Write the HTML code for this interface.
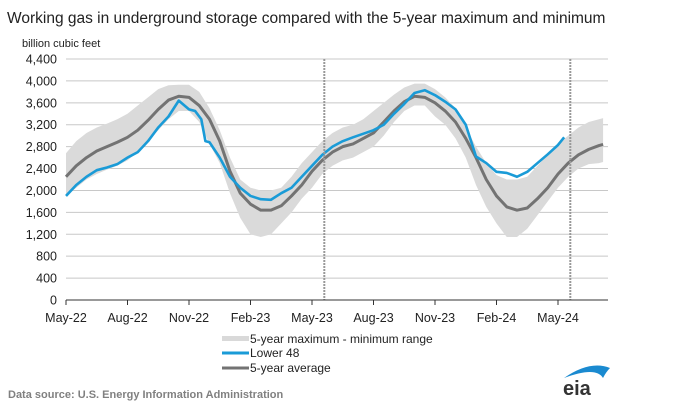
<!DOCTYPE html>
<html><head><meta charset="utf-8"><style>
body{margin:0;background:#fff;width:679px;height:406px;overflow:hidden;font-family:"Liberation Sans",Arial,sans-serif}
svg{display:block}
</style></head><body>
<svg width="679" height="406">
<text x="7" y="23" font-size="15.5" fill="#222">Working gas in underground  storage compared with the 5-year maximum and minimum</text>
<text x="22" y="47" font-size="11" fill="#222">billion cubic feet</text>
<g id="grid"></g><g id="band"></g><g id="lines"></g><g id="axes"></g>
<g>
<rect x="222" y="336" width="27" height="5" fill="#d9d9d9"/>
<text x="250" y="343" font-size="12" fill="#222">5-year maximum - minimum range</text>
<line x1="222" y1="353" x2="249" y2="353" stroke="#1a9bd7" stroke-width="3"/>
<text x="250" y="357" font-size="12" fill="#222">Lower 48</text>
<line x1="222" y1="368" x2="249" y2="368" stroke="#737373" stroke-width="3"/>
<text x="250" y="372" font-size="12" fill="#222">5-year average</text>
</g>
<text x="8" y="398" font-size="11" font-weight="bold" fill="#808080">Data source:  U.S. Energy Information Administration</text>
<g>
<path d="M564,378 Q590,360 610,368 Q606,372 603,378 Q596,366 564,378Z" fill="#1a8ad0"/>
<text x="563" y="395" font-size="20" font-weight="bold" fill="#333">eia</text>
</g>
</svg>
<script>
const months=[0,0.5,1,1.5,2,2.5,3,3.5,4,4.5,5,5.5,6,6.5,7,7.5,8,8.5,9,9.5,10,10.5,11,11.5,12,12.5,13,13.5,14,14.5,15,15.5,16,16.5,17,17.5,18,18.5,19,19.5,20,20.5,21,21.5,22,22.5,23,23.5,24,24.5,25,25.5,26,26.2];
const maxVals=[2680,2900,3050,3150,3220,3300,3400,3550,3700,3850,3920,3930,3930,3800,3500,3100,2600,2200,2050,2000,2000,2050,2250,2500,2700,2900,3050,3150,3200,3300,3450,3600,3750,3880,3950,3950,3850,3700,3500,3150,2800,2500,2280,2200,2200,2250,2450,2650,2850,3000,3150,3250,3300,3320];
const minVals=[1900,2050,2200,2300,2380,2450,2550,2700,2900,3100,3300,3450,3450,3250,2850,2500,1950,1500,1200,1150,1200,1400,1600,1850,2050,2300,2450,2550,2600,2700,2800,3000,3250,3450,3550,3550,3350,3200,2950,2600,2100,1700,1400,1150,1150,1300,1550,1800,2050,2250,2400,2480,2500,2520];
const avgVals=[2250,2450,2600,2720,2800,2880,2970,3100,3280,3480,3650,3720,3700,3550,3300,2900,2350,1950,1750,1640,1640,1720,1900,2100,2350,2550,2700,2800,2850,2950,3050,3250,3450,3620,3720,3700,3600,3450,3250,2950,2600,2200,1900,1700,1640,1680,1850,2050,2300,2500,2650,2750,2820,2840];
const l48Months=[0,0.5,1,1.5,2,2.5,3,3.5,4,4.5,5,5.5,6,6.3,6.6,6.8,7,7.5,8,8.5,9,9.5,10,10.5,11,11.5,12,12.5,13,13.5,14,15,15.5,16,16.5,17,17.5,18,18.5,19,19.5,20,20.5,21,21.5,22,22.5,23,23.5,24,24.3];
const l48Vals=[1900,2100,2250,2370,2420,2480,2600,2700,2900,3150,3350,3640,3480,3450,3300,2900,2880,2600,2250,2050,1900,1840,1830,1950,2050,2250,2450,2650,2800,2900,2970,3100,3200,3400,3580,3780,3830,3740,3620,3480,3200,2620,2500,2340,2320,2250,2340,2500,2660,2830,2970];
const yTicks=[0,400,800,1200,1600,2000,2400,2800,3200,3600,4000,4400];
const xTickLabels=["May-22","Aug-22","Nov-22","Feb-23","May-23","Aug-23","Nov-23","Feb-24","May-24"];
const xTickMonths=[0,3,6,9,12,15,18,21,24];
const dashedMonths=[12.6,24.6];
const NS="http://www.w3.org/2000/svg";
const X=m=>66+m*20.5, Y=v=>300-v/4400*241;
function mk(tag,attrs,parent){const e=document.createElementNS(NS,tag);for(const k in attrs)e.setAttribute(k,attrs[k]);document.querySelector(parent).appendChild(e);return e;}
yTicks.forEach(v=>{
 if(v>0){const g=mk('line',{x1:66,x2:608,y1:Y(v),y2:Y(v),stroke:'#c8c8c8','stroke-width':1},'#grid');
 
 }
 const t=mk('text',{x:57,y:Y(v)+4.5,'font-size':12.5,'text-anchor':'end',fill:'#222'},'#axes');t.textContent=v.toLocaleString('en-US');
 
 
});
let bp='M'+months.map((m,i)=>X(m)+','+Y(maxVals[i])).join('L');
for(let i=months.length-1;i>=0;i--)bp+='L'+X(months[i])+','+Y(minVals[i]);
const band=mk('path',{d:bp+'Z',fill:'#dadada'},'#band');


const avg=mk('polyline',{points:months.map((m,i)=>X(m)+','+Y(avgVals[i])).join(' '),fill:'none',stroke:'#737373','stroke-width':3,'stroke-linejoin':'round'},'#lines');


const l48=mk('polyline',{points:l48Months.map((m,i)=>X(m)+','+Y(l48Vals[i])).join(' '),fill:'none',stroke:'#1a9bd7','stroke-width':2.6,'stroke-linejoin':'round'},'#lines');


dashedMonths.forEach(m=>{const d=mk('line',{x1:X(m),x2:X(m),y1:59,y2:300,stroke:'#999','stroke-width':2,'stroke-dasharray':'2,1'},'#lines');
 
 });
const ax=mk('line',{x1:66,x2:608,y1:300,y2:300,stroke:'#333','stroke-width':1},'#axes');


xTickMonths.forEach((m,i)=>{
 const tk=mk('line',{x1:X(m),x2:X(m),y1:300,y2:305,stroke:'#333'},'#axes');
 
 
 const t=mk('text',{x:X(m),y:322,'font-size':12.5,'text-anchor':'middle',fill:'#222'},'#axes');t.textContent=xTickLabels[i];
 
 
});
</script>
</body></html>
